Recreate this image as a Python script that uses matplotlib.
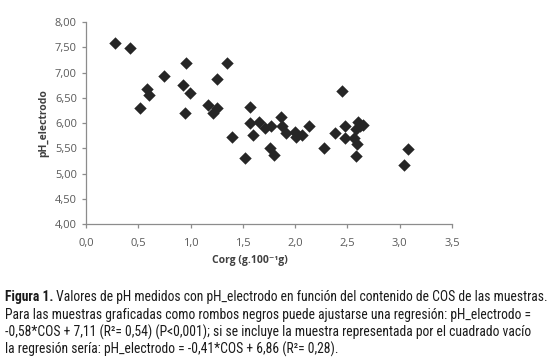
from matplotlib import pyplot as plt
from matplotlib.ticker import FuncFormatter, MultipleLocator
from matplotlib import font_manager

# data
corg = [0.28, 0.42, 0.52, 0.58, 0.60, 0.75, 0.93, 0.95, 0.96, 0.99,
        1.17, 1.21, 1.25, 1.25, 1.35, 1.40, 1.52, 1.57, 1.57, 1.60,
        1.65, 1.71, 1.77, 1.76, 1.80, 1.86, 1.87, 1.91, 2.00, 2.01,
        2.07, 2.13, 2.28, 2.38, 2.45, 2.48, 2.48, 2.56, 2.58, 2.59,
        2.60, 2.62, 2.65, 2.58, 3.04, 3.08]
ph_electrodo = [7.59, 7.48, 6.29, 6.68, 6.56, 6.94, 6.75, 6.21, 7.18, 6.60,
                6.36, 6.21, 6.29, 6.88, 7.18, 5.72, 5.31, 6.31, 6.00, 5.77,
                6.03, 5.90, 5.94, 5.51, 5.37, 6.13, 5.94, 5.81, 5.83, 5.72,
                5.77, 5.94, 5.50, 5.80, 6.64, 5.94, 5.71, 5.70, 5.89, 5.58,
                6.03, 5.94, 5.97, 5.36, 5.17, 5.48]

caption_bold = 'Figura 1.'
caption_lines = [
    ' Valores de pH medidos con pH_electrodo en función del contenido de COS de las muestras.',
    'Para las muestras graficadas como rombos negros puede ajustarse una regresión: pH_electrodo =',
    '-0,58*COS + 7,11 (R²= 0,54) (P<0,001); si se incluye la muestra representada por el cuadrado vacío',
    'la regresión sería: pH_electrodo = -0,41*COS + 6,86 (R²= 0,28).',
]

W, H = 551, 361
fig = plt.figure(figsize=(W / 100, H / 100), dpi=100)
fig.patch.set_facecolor('white')
ax = fig.add_axes([86 / W, 1 - 224.3 / H, 366 / W, 202.3 / H])

ax.scatter(corg, ph_electrodo, marker='D', s=40, color='#262626', linewidths=0, zorder=3)

ax.set_xlim(0, 3.5)
ax.set_ylim(4, 8)
ax.xaxis.set_major_locator(MultipleLocator(0.5))
ax.yaxis.set_major_locator(MultipleLocator(0.5))
ax.xaxis.set_major_formatter(FuncFormatter(lambda v, p: f'{v:.1f}'.replace('.', ',')))
ax.yaxis.set_major_formatter(FuncFormatter(lambda v, p: f'{v:.2f}'.replace('.', ',')))

ax.spines['top'].set_visible(False)
ax.spines['right'].set_visible(False)
for s in ['left', 'bottom']:
    ax.spines[s].set_color('#8c8c8c')
    ax.spines[s].set_linewidth(0.9)
ax.tick_params(colors='#8c8c8c', labelcolor='#595959', labelsize=8, length=3, width=0.9)
ax.tick_params(axis='x', pad=7)

tick_font = ['Open Sans', 'DejaVu Sans']
for lab in ax.get_xticklabels() + ax.get_yticklabels():
    lab.set_family(tick_font)

# axis titles
fig.text(44 / W, 1 - 123 / H, 'pH_electrodo', rotation=90, ha='center', va='center',
         fontsize=7.5, fontweight='bold', color='#404040', family=tick_font)
fig.text(250 / W, 1 - 261 / H, 'Corg (g.100⁻¹g)', ha='center', va='center',
         fontsize=7.5, fontweight='bold', color='#404040', family=tick_font)

# caption - narrow font if one is there, then shrink to fit the width
names = {f.name for f in font_manager.fontManager.ttflist}
cap_font = [n for n in ['DejaVu Sans Condensed', 'Liberation Sans Narrow', 'Roboto Condensed']
            if n in names] + ['Liberation Sans', 'DejaVu Sans']
renderer = fig.canvas.get_renderer()
ys = [297, 315, 332, 349]
x0 = 5
right = 546

cap_size = 10
texts = []
tb = fig.text(x0 / W, 1 - ys[0] / H, caption_bold, ha='left', va='center', fontsize=cap_size,
              fontweight='bold', color='#1a1a1a', family=cap_font, fontstretch='condensed')
t1 = fig.text(0, 1 - ys[0] / H, caption_lines[0], ha='left', va='center',
              fontsize=cap_size, color='#1a1a1a', family=cap_font, fontstretch='condensed')
texts.append(t1)
for y, line in zip(ys[1:], caption_lines[1:]):
    texts.append(fig.text(x0 / W, 1 - y / H, line, ha='left', va='center', fontsize=cap_size,
                          color='#1a1a1a', family=cap_font, fontstretch='condensed'))

def widths():
    wb = tb.get_window_extent(renderer).width
    return [wb + texts[0].get_window_extent(renderer).width] + \
           [t.get_window_extent(renderer).width for t in texts[1:]]

scale = min(1.0, (right - x0) / max(widths()))
for t in [tb] + texts:
    t.set_fontsize(cap_size * scale)
bb = tb.get_window_extent(renderer)
texts[0].set_x(bb.x1 / W)

fig.savefig('out.png', dpi=100)
